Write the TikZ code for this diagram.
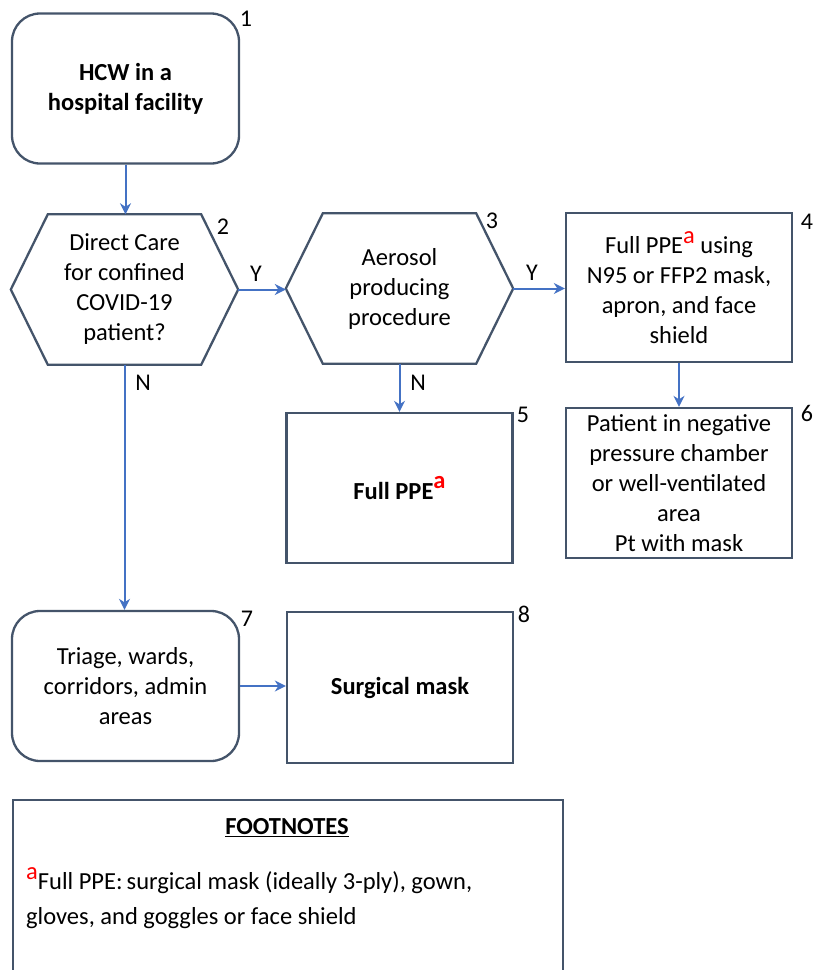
\documentclass[tikz,border=0pt]{standalone}
\usepackage{fontspec}
\setmainfont{Carlito}
\usetikzlibrary{arrows.meta}
\definecolor{bord}{HTML}{44546A}
\definecolor{arr}{HTML}{4472C4}
\newcommand\supa{\textcolor{red}{\raisebox{0.42em}{a}}}
\begin{document}
\begin{tikzpicture}[x=1pt,y=-1pt,
  txt/.style={font=\fontsize{24.5}{30}\selectfont, align=center},
  box/.style={txt, draw=bord, line width=2.3pt, fill=white, minimum width=227pt, minimum height=150pt, inner sep=0pt},
  rbox/.style={box, rounded corners=28pt},
  hexnode/.style={txt, minimum width=227pt, minimum height=150pt, inner sep=0pt},
  hexline/.style={draw=bord, line width=2.3pt, line join=miter},
  num/.style={font=\fontsize{24}{28}\selectfont, inner sep=0pt},
  lab/.style={font=\fontsize{24}{28}\selectfont, inner sep=0pt},
  arrow/.style={draw=arr, line width=2pt, -{Stealth[length=11pt,width=11pt,inset=3.5pt]}}]
\path[use as bounding box] (0,0) rectangle (815,970);
\clip (0,0) rectangle (815,970);

% nodes
\node[rbox] (b1) at (125.5,88.5) {\textbf{HCW in a}\\\textbf{hospital facility}};
\node[num] (n1) at (246,19) {1};

\node[hexnode] (h2) at (124.5,289.5) {Direct Care\\for confined\\COVID-19\\patient?};
\draw[hexline] (h2.west) -- ([xshift=37pt]h2.north west) -- ([xshift=-37pt]h2.north east) -- (h2.east) -- ([xshift=-37pt]h2.south east) -- ([xshift=37pt]h2.south west) -- cycle;
\node[num] (n2) at (223,227) {2};

\node[hexnode] (h3) at (399.5,288.5) {Aerosol\\producing\\procedure};
\draw[hexline] (h3.west) -- ([xshift=37pt]h3.north west) -- ([xshift=-37pt]h3.north east) -- (h3.east) -- ([xshift=-37pt]h3.south east) -- ([xshift=37pt]h3.south west) -- cycle;
\node[num] (n3) at (492,221) {3};

\node[box, minimum width=226pt, minimum height=149pt] (b4) at (679,287.5) {Full PPE\supa{} using\\N95 or FFP2 mask,\\apron, and face\\shield};
\node[num] (n4) at (807,222) {4};

\node[box, minimum width=226pt] (b5) at (399.5,488) {\textbf{Full PPE\supa}};
\node[num] (n5) at (523,415) {5};

\node[box, minimum width=226pt] (b6) at (679,483) {Patient in negative\\pressure chamber\\or well-ventilated\\area\\Pt with mask};
\node[num] (n6) at (807,413) {6};

\node[rbox] (b7) at (125.5,686) {Triage, wards,\\corridors, admin\\areas};
\node[num] (n7) at (247,619) {7};

\node[box, minimum width=226pt, minimum height=151pt] (b8) at (400,687.5) {\textbf{Surgical mask}};
\node[num] (n8) at (524,614) {8};

% footnotes
\node[draw=bord, line width=2.3pt, minimum width=550pt, minimum height=220pt, anchor=north west, inner sep=0pt] (fbox) at (12,799) {};
\node[txt] (ftitle) at (287,828) {\underline{\textbf{FOOTNOTES}}};
\node[font=\fontsize{24.5}{35}\selectfont, align=left, anchor=north west, inner sep=0pt] (fbody) at (26,867) {\supa Full PPE:\,surgical mask (ideally 3-ply), gown,\\gloves, and goggles or face shield};

% connectors
\draw[arrow] (b1.south) -- (b1.south |- h2.north);
\draw[arrow] (h2.east) -- (h2.east -| h3.west);
\node[lab] (y1) at (256,274) {Y};
\draw[arrow] (h3.east) -- (h3.east -| b4.west);
\node[lab] (y2) at (532,273) {Y};
\draw[arrow] (h3.south) -- (h3.south |- b5.north);
\node[lab] (nn2) at (418,383) {N};
\draw[arrow] (b4.south) -- (b4.south |- b6.north);
\draw[arrow] (h2.south) -- (h2.south |- b7.north);
\node[lab] (nn1) at (143,383) {N};
\draw[arrow] (b7.east) -- (b7.east -| b8.west);
\end{tikzpicture}
\end{document}
